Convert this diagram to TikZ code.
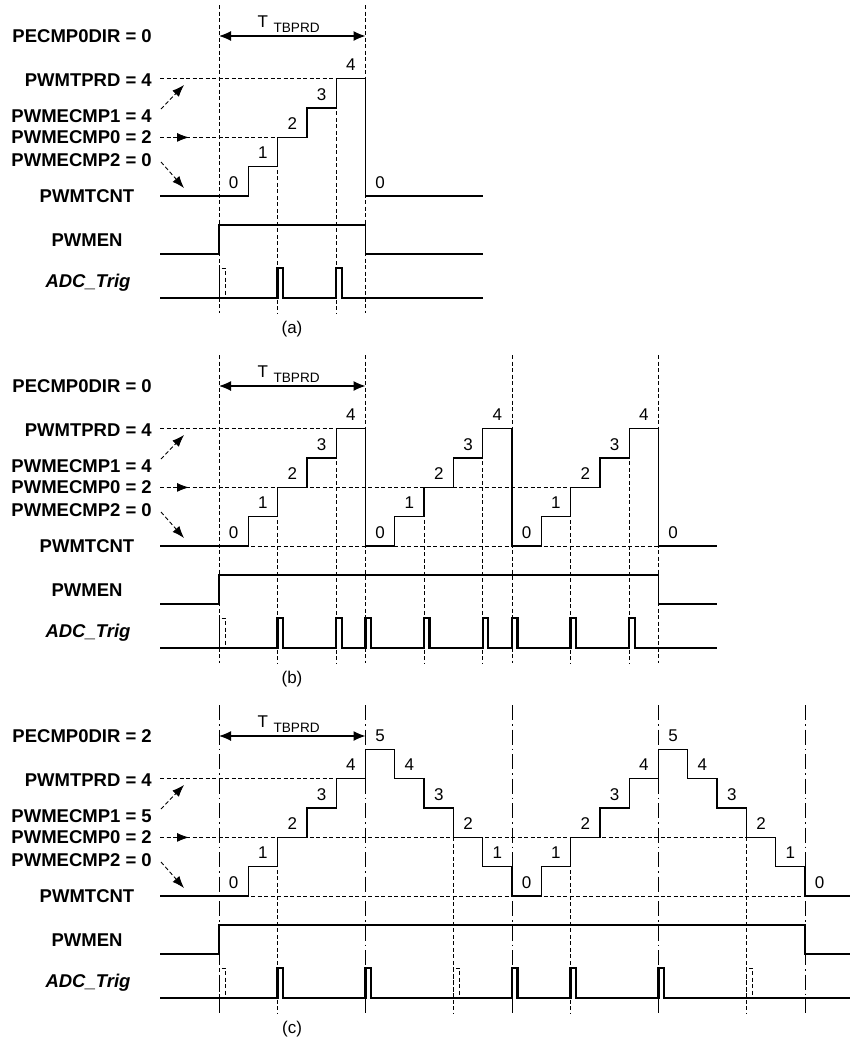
\documentclass[tikz,border=0pt]{standalone}
\usepackage{fontspec}
\setmainfont{Liberation Sans}
\usetikzlibrary{arrows.meta}

\tikzset{
 sig/.style={line width=1.3pt, line join=miter},
 trig/.style={line width=2.3pt, line join=miter},
 refline/.style={line width=0.9pt, dash pattern=on 4pt off 2.5pt},
 ddline/.style={line width=0.9pt, dash pattern=on 15pt off 4pt on 1.5pt off 4pt},
 lbl/.style={font=\fontsize{18.5}{20}\selectfont\bfseries, anchor=base east, inner sep=0pt},
 lblc/.style={font=\fontsize{18.5}{20}\selectfont\bfseries, anchor=base, inner sep=0pt},
 num/.style={font=\fontsize{17}{18}\selectfont, anchor=base, inner sep=0pt},
 tip/.style={-{Latex[length=12pt,width=9pt]}},
 dtip/.style={{Latex[length=12pt,width=10pt]}-{Latex[length=12pt,width=10pt]}},
}

\newcommand\leftlabels[3]{%
 \node[lbl] (#3dir) at (152,42) {PECMP0DIR = #1};
 \node[lbl] (#3prd) at (152,86) {PWMTPRD = 4};
 \node[lbl] (#3cmpa) at (152,122) {PWMECMP1 = #2};
 \node[lbl] (#3cmpz) at (152,143.5) {PWMECMP0 = 2};
 \node[lbl] (#3cmpb) at (152,166) {PWMECMP2 = 0};
 \node[lblc] (#3cnt) at (87,202) {PWMTCNT};
 \node[lblc] (#3en) at (87,246) {PWMEN};
 \node[lblc,font=\fontsize{18.5}{20}\selectfont\bfseries\itshape] (#3adc) at (88,287) {ADC\_Trig};
 \coordinate (#3ua) at (161,109); \coordinate (#3ub) at (184,85);
 \coordinate (#3da) at (161,162); \coordinate (#3db) at (184,188);
 \coordinate (#3ma) at (160,137.4); \coordinate (#3mb) at (189,137.4);
 \draw[refline,tip] (#3ua) -- (#3ub);
 \draw[refline,tip] (#3da) -- (#3db);
 \draw[refline,tip] (#3ma) -- (#3mb);
 \coordinate (#3ta) at (219,36); \coordinate (#3tb) at (365.5,36);
 \draw[line width=1.2pt,dtip] (#3ta) -- (#3tb);
 \node[anchor=base west,inner sep=0pt,font=\fontsize{17}{18}\selectfont] (#3T) at (257.5,27) {T\hspace{5.5pt}\raisebox{-5pt}{\fontsize{13.6}{14}\selectfont TBPRD}};
}

\begin{document}
\begin{tikzpicture}[x=1pt,y=-1pt]
\useasboundingbox (0,0) rectangle (851,1037);

%% ---------------- panel (a)
\leftlabels{0}{4}{a}
\draw[refline] (219,5) -- (219,313);
\draw[refline] ({219+5*29.3},5) -- ({219+5*29.3},313);
\draw[refline] ({219+2*29.3},{196-2*29.3}) -- ({219+2*29.3},313);
\draw[refline] ({219+4*29.3},{196-4*29.3}) -- ({219+4*29.3},313);
\draw[refline] (160,{196-4*29.3}) -- ({219+4*29.3},{196-4*29.3});
\draw[refline] (160,{196-2*29.3}) -- ({219+2*29.3},{196-2*29.3});
\draw[sig] (160,196) \foreach \k in {0,...,4}{ -- ({219+29.3*\k},{196-29.3*\k}) -- ({219+29.3*(\k+1)},{196-29.3*\k}) } -- ({219+29.3*5},196) -- (483,196);
\foreach \k in {0,...,4} \node[num] (na\k) at ({219+29.3*\k+14.65},{188-29.3*\k}) {\k};
\node[num] (na5) at ({219+29.3*5+14.65},188) {0};
\draw[sig] (160,254) -- (219,254) -- (219,225) -- ({219+29.3*5},225) -- ({219+29.3*5},254) -- (483,254);
\draw[trig] (160,298) \foreach \k in {2,4}{ -- ({219+29.3*\k},298) -- ({219+29.3*\k},268) -- ({219+29.3*\k+5.5},268) -- ({219+29.3*\k+5.5},298)} -- (483,298);
\draw[refline] (219,298) -- (219,268) -- (225,268) -- (225,298);
\node[num] (capa) at (292,333) {(a)};

%% ---------------- panel (b)
\begin{scope}[shift={(0,350)}]
\leftlabels{0}{4}{b}
\foreach \k in {0,5,10,15} \draw[refline] ({219+29.3*\k},5) -- ({219+29.3*\k},313);
\foreach \k in {2,7,12} \draw[refline] ({219+29.3*\k},{196-2*29.3}) -- ({219+29.3*\k},313);
\foreach \k in {4,9,14} \draw[refline] ({219+29.3*\k},{196-4*29.3}) -- ({219+29.3*\k},313);
\draw[refline] (160,{196-4*29.3}) -- ({219+4*29.3},{196-4*29.3});
\draw[refline] (160,{196-2*29.3}) -- ({219+12*29.3},{196-2*29.3});
\draw[refline] (160,196) -- ({219+15*29.3},196);
\draw[sig] (160,196) \foreach \k [evaluate=\k as \lv using {int(mod(\k,5))}] in {0,...,14}{ -- ({219+29.3*\k},{196-29.3*\lv}) -- ({219+29.3*(\k+1)},{196-29.3*\lv}) } -- ({219+29.3*15},196) -- (717,196);
\foreach \k [evaluate=\k as \lv using {int(mod(\k,5))}] in {0,...,14} \node[num] (nb\k) at ({219+29.3*\k+14.65},{188-29.3*\lv}) {\lv};
\node[num] (nb15) at ({219+29.3*15+14.65},188) {0};
\draw[sig] (160,254) -- (219,254) -- (219,225) -- ({219+29.3*15},225) -- ({219+29.3*15},254) -- (717,254);
\draw[trig] (160,298) \foreach \k in {2,4,5,7,9,10,12,14}{ -- ({219+29.3*\k},298) -- ({219+29.3*\k},268) -- ({219+29.3*\k+5.5},268) -- ({219+29.3*\k+5.5},298)} -- (717,298);
\draw[refline] (219,298) -- (219,268) -- (225,268) -- (225,298);
\node[num] (capb) at (292,333) {(b)};
\end{scope}

%% ---------------- panel (c)
\begin{scope}[shift={(0,700)}]
\leftlabels{2}{5}{c}
\foreach \k in {0,5,10,15,20} \draw[ddline] ({219+29.3*\k},5) -- ({219+29.3*\k},313);
\foreach \k in {2,8,12,18} \draw[refline] ({219+29.3*\k},{196-2*29.3}) -- ({219+29.3*\k},313);
\draw[refline] (160,{196-4*29.3}) -- ({219+4*29.3},{196-4*29.3});
\draw[refline] (160,{196-2*29.3}) -- ({219+18*29.3},{196-2*29.3});
\draw[refline] (160,196) -- ({219+20*29.3},196);
\draw[sig] (160,196) \foreach \k [evaluate=\k as \lv using {int(5-abs(5-mod(\k,10)))}] in {0,...,19}{ -- ({219+29.3*\k},{196-29.3*\lv}) -- ({219+29.3*(\k+1)},{196-29.3*\lv}) } -- ({219+29.3*20},196) -- (850,196);
\foreach \k [evaluate=\k as \lv using {int(5-abs(5-mod(\k,10)))}] in {0,...,19} \node[num] (nc\k) at ({219+29.3*\k+14.65},{188-29.3*\lv}) {\lv};
\node[num] (nc20) at ({219+29.3*20+14.65},188) {0};
\draw[sig] (160,254) -- (219,254) -- (219,225) -- ({219+29.3*20},225) -- ({219+29.3*20},254) -- (850,254);
\draw[trig] (160,298) \foreach \k in {2,5,10,12,15}{ -- ({219+29.3*\k},298) -- ({219+29.3*\k},268) -- ({219+29.3*\k+5.5},268) -- ({219+29.3*\k+5.5},298)} -- (850,298);
\foreach \k in {0,8,18} \draw[refline] ({219+29.3*\k},298) -- ({219+29.3*\k},268) -- ({219+29.3*\k+6},268) -- ({219+29.3*\k+6},298);
\node[num] (capc) at (292,333) {(c)};
\end{scope}
\end{tikzpicture}
\end{document}
